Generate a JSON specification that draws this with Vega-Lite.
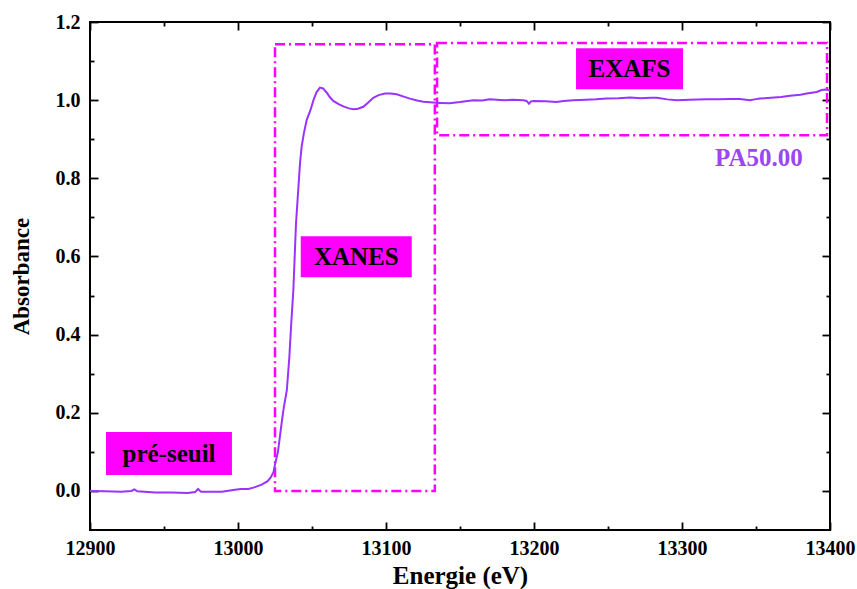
{
  "$schema": "https://vega.github.io/schema/vega-lite/v6.json",
  "width": 740,
  "height": 508,
  "autosize": {"type": "none"},
  "padding": {"left": 90, "top": 22, "right": 27, "bottom": 59},
  "background": "white",
  "config": {
    "view": {"stroke": "black", "strokeWidth": 2},
    "axis": {
      "domain": false,
      "grid": false,
      "labelFont": "Times New Roman, Liberation Serif, DejaVu Serif, serif",
      "labelFontWeight": "bold",
      "labelFontSize": 20,
      "labelColor": "black",
      "labelFlush": false,
      "tickColor": "black",
      "tickWidth": 1.8,
      "titleFont": "Times New Roman, Liberation Serif, DejaVu Serif, serif",
      "titleFontWeight": "bold",
      "titleColor": "black"
    }
  },
  "datasets": {
    "curve": [
      {"E": 12900, "A": 0.000}, {"E": 12910, "A": -0.001}, {"E": 12921, "A": -0.002}, {"E": 12928, "A": 0.000},
      {"E": 12930, "A": 0.004}, {"E": 12932, "A": -0.001}, {"E": 12944, "A": -0.004}, {"E": 12955, "A": -0.004},
      {"E": 12966, "A": -0.005}, {"E": 12971, "A": -0.003}, {"E": 12973, "A": 0.005}, {"E": 12975, "A": -0.002},
      {"E": 12989, "A": -0.002}, {"E": 12998, "A": 0.003}, {"E": 13002, "A": 0.005}, {"E": 13007, "A": 0.005},
      {"E": 13011, "A": 0.009}, {"E": 13016, "A": 0.016}, {"E": 13020, "A": 0.025}, {"E": 13022, "A": 0.034},
      {"E": 13024, "A": 0.048}, {"E": 13025, "A": 0.068}, {"E": 13027, "A": 0.100}, {"E": 13029.5, "A": 0.174},
      {"E": 13031, "A": 0.215}, {"E": 13033, "A": 0.258}, {"E": 13034.7, "A": 0.343}, {"E": 13036, "A": 0.43},
      {"E": 13037.4, "A": 0.514}, {"E": 13039.2, "A": 0.685}, {"E": 13040.7, "A": 0.770}, {"E": 13041.9, "A": 0.839},
      {"E": 13043, "A": 0.881}, {"E": 13044.5, "A": 0.915}, {"E": 13046.4, "A": 0.949}, {"E": 13049, "A": 0.975},
      {"E": 13051, "A": 1.000}, {"E": 13053, "A": 1.020}, {"E": 13055.4, "A": 1.032}, {"E": 13057.5, "A": 1.030},
      {"E": 13060, "A": 1.019}, {"E": 13062, "A": 1.008}, {"E": 13064.4, "A": 0.998}, {"E": 13068, "A": 0.990},
      {"E": 13071.2, "A": 0.984}, {"E": 13075, "A": 0.979}, {"E": 13078, "A": 0.977}, {"E": 13081, "A": 0.978},
      {"E": 13084.7, "A": 0.983}, {"E": 13088, "A": 0.994}, {"E": 13091.4, "A": 1.006}, {"E": 13095, "A": 1.013},
      {"E": 13099.3, "A": 1.017}, {"E": 13103, "A": 1.017}, {"E": 13107.2, "A": 1.015}, {"E": 13112, "A": 1.009},
      {"E": 13116.2, "A": 1.004}, {"E": 13121, "A": 0.999}, {"E": 13125.2, "A": 0.996}, {"E": 13132, "A": 0.994},
      {"E": 13136.5, "A": 0.993}, {"E": 13143, "A": 0.992}, {"E": 13150, "A": 0.995}, {"E": 13159, "A": 1.000},
      {"E": 13165, "A": 0.999}, {"E": 13170, "A": 1.002}, {"E": 13180, "A": 1.000}, {"E": 13186, "A": 1.001},
      {"E": 13192.8, "A": 1.000}, {"E": 13195, "A": 0.998}, {"E": 13196.6, "A": 0.991}, {"E": 13198, "A": 0.997},
      {"E": 13200, "A": 0.998}, {"E": 13208, "A": 0.997}, {"E": 13215, "A": 0.995}, {"E": 13220, "A": 0.998},
      {"E": 13226.6, "A": 1.000}, {"E": 13235, "A": 1.001}, {"E": 13242, "A": 1.002}, {"E": 13249, "A": 1.004},
      {"E": 13257, "A": 1.005}, {"E": 13265, "A": 1.007}, {"E": 13272, "A": 1.005}, {"E": 13279, "A": 1.006},
      {"E": 13283, "A": 1.006}, {"E": 13290, "A": 1.002}, {"E": 13296.4, "A": 1.000}, {"E": 13305, "A": 1.001},
      {"E": 13316.7, "A": 1.002}, {"E": 13325, "A": 1.002}, {"E": 13333, "A": 1.003}, {"E": 13339, "A": 1.003},
      {"E": 13346, "A": 1.000}, {"E": 13349, "A": 1.002}, {"E": 13352.7, "A": 1.004}, {"E": 13360, "A": 1.006},
      {"E": 13367, "A": 1.008}, {"E": 13373, "A": 1.011}, {"E": 13380, "A": 1.014}, {"E": 13384.3, "A": 1.017},
      {"E": 13391, "A": 1.021}, {"E": 13394.4, "A": 1.026}, {"E": 13397, "A": 1.027}, {"E": 13400, "A": 1.025}
    ],
    "boxes": [
      {"name": "XANES", "x0": 13025, "x1": 13133, "y0": 0.0, "y1": 1.143},
      {"name": "EXAFS", "x0": 13134.5, "x1": 13398, "y0": 0.91, "y1": 1.146}
    ],
    "labels": [
      {"text": "pré-seuil", "x0": 12910.8, "x1": 12995.9, "y0": 0.041, "y1": 0.151, "cx": 12953.4, "cy": 0.094},
      {"text": "XANES", "x0": 13042.4, "x1": 13117.4, "y0": 0.547, "y1": 0.652, "cx": 13079.9, "cy": 0.598},
      {"text": "EXAFS", "x0": 13228.4, "x1": 13300.7, "y0": 1.028, "y1": 1.133, "cx": 13264.5, "cy": 1.079}
    ],
    "sample": [
      {"text": "PA50.00", "cx": 13352, "cy": 0.852}
    ]
  },
  "layer": [
    {
      "data": {"name": "boxes"},
      "mark": {"type": "rect", "fillOpacity": 0, "stroke": "#FF00FF", "strokeWidth": 2.5, "strokeDash": [10, 4, 2, 4]},
      "encoding": {
        "x": {"field": "x0", "type": "quantitative", "scale": {"domain": [12900, 13400], "nice": false, "zero": false},
              "axis": {"orient": "bottom", "values": [12900, 13000, 13100, 13200, 13300, 13400], "format": "d", "tickSize": -8, "labelPadding": 16, "title": "Energie (eV)", "titleFontSize": 25, "titlePadding": 5}},
        "x2": {"field": "x1"},
        "y": {"field": "y0", "type": "quantitative", "scale": {"domain": [-0.1, 1.2], "nice": false, "zero": false},
              "axis": {"orient": "left", "values": [0, 0.2, 0.4, 0.6, 0.8, 1.0, 1.2], "format": ".1f", "tickSize": -8, "labelPadding": 18, "title": "Absorbance", "titleFontSize": 23, "titlePadding": 22}},
        "y2": {"field": "y1"}
      }
    },
    {
      "data": {"name": "curve"},
      "mark": {"type": "line", "color": "#9933FF", "strokeWidth": 2},
      "encoding": {
        "x": {"field": "E", "type": "quantitative", "scale": {"domain": [12900, 13400], "nice": false, "zero": false},
              "axis": {"orient": "bottom", "values": [12950, 13050, 13150, 13250, 13350], "tickSize": -4, "labels": false, "title": null}},
        "y": {"field": "A", "type": "quantitative", "scale": {"domain": [-0.1, 1.2], "nice": false, "zero": false},
              "axis": {"orient": "left", "values": [0.1, 0.3, 0.5, 0.7, 0.9, 1.1], "tickSize": -4, "labels": false, "title": null}}
      }
    },
    {
      "data": {"name": "labels"},
      "mark": {"type": "rect", "fill": "#FF00FF"},
      "encoding": {
        "x": {"field": "x0", "type": "quantitative", "scale": {"domain": [12900, 13400], "nice": false, "zero": false},
              "axis": {"orient": "top", "values": [12900, 13000, 13100, 13200, 13300, 13400], "tickSize": -8, "labels": false, "title": null}},
        "x2": {"field": "x1"},
        "y": {"field": "y0", "type": "quantitative", "scale": {"domain": [-0.1, 1.2], "nice": false, "zero": false},
              "axis": {"orient": "right", "values": [0, 0.2, 0.4, 0.6, 0.8, 1.0, 1.2], "tickSize": -8, "labels": false, "title": null}},
        "y2": {"field": "y1"}
      }
    },
    {
      "data": {"name": "labels"},
      "mark": {"type": "text", "font": "Times New Roman, Liberation Serif, DejaVu Serif, serif", "fontWeight": "bold", "fontSize": 25, "color": "black", "baseline": "middle", "align": "center"},
      "encoding": {
        "x": {"field": "cx", "type": "quantitative", "scale": {"domain": [12900, 13400], "nice": false, "zero": false},
              "axis": {"orient": "top", "values": [12950, 13050, 13150, 13250, 13350], "tickSize": -4, "labels": false, "title": null}},
        "y": {"field": "cy", "type": "quantitative", "scale": {"domain": [-0.1, 1.2], "nice": false, "zero": false},
              "axis": {"orient": "right", "values": [0.1, 0.3, 0.5, 0.7, 0.9, 1.1], "tickSize": -4, "labels": false, "title": null}},
        "text": {"field": "text"}
      }
    },
    {
      "data": {"name": "sample"},
      "mark": {"type": "text", "font": "Times New Roman, Liberation Serif, DejaVu Serif, serif", "fontWeight": "bold", "fontSize": 25, "color": "#9B45F5", "baseline": "middle", "align": "center"},
      "encoding": {
        "x": {"field": "cx", "type": "quantitative", "scale": {"domain": [12900, 13400], "nice": false, "zero": false}, "axis": null},
        "y": {"field": "cy", "type": "quantitative", "scale": {"domain": [-0.1, 1.2], "nice": false, "zero": false}, "axis": null},
        "text": {"field": "text"}
      }
    }
  ],
  "resolve": {"axis": {"x": "independent", "y": "independent"}}
}
